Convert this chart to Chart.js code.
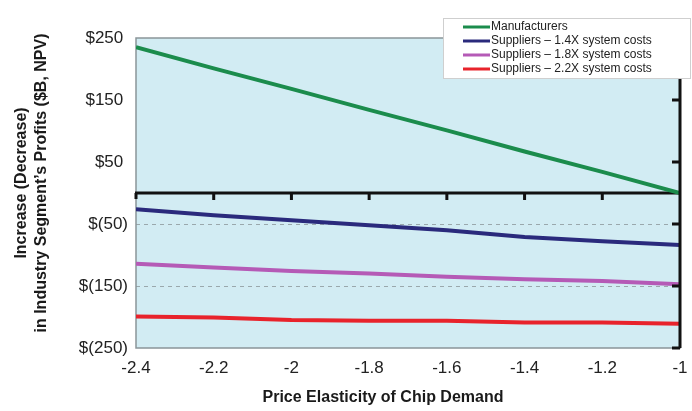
<!DOCTYPE html>
<html>
<head>
<meta charset="utf-8">
<script src="https://cdn.jsdelivr.net/npm/chart.js@4"></script>
<style>
  html, body { margin: 0; padding: 0; background: #fff; }
  #wrap { width: 692px; height: 411px; }
</style>
</head>
<body>
<div id="wrap"><canvas id="profitChart" width="692" height="411"></canvas></div>
<script>
// values ($B, NPV)
const elasticity = [-2.4, -2.2, -2.0, -1.8, -1.6, -1.4, -1.2, -1.0];
const manufacturers = [235, 201, 168, 134, 101, 67, 34, 0];
const suppliers14 = [-26, -36, -44, -52, -60, -71, -78, -84];
const suppliers18 = [-114, -120, -126, -130, -135, -139, -142, -147];
const suppliers22 = [-199, -201, -205, -206, -206, -209, -209, -211];
const yTicks = [250, 150, 50, -50, -150, -250];
const dashedAt = [-50, -150];

const seriesNames = [
  'Manufacturers',
  'Suppliers \u2013 1.4X system costs',
  'Suppliers \u2013 1.8X system costs',
  'Suppliers \u2013 2.2X system costs'
];
const seriesColors = ['#1b8c4c', '#2a2a7c', '#b55ab6', '#e8232b'];
const seriesValues = [manufacturers, suppliers14, suppliers18, suppliers22];

const FONT = 'Arial, "Liberation Sans", sans-serif';

function money(v) {
  if (v < 0) return '$(' + (-v) + ')';
  return '$' + v + ' ';
}

// background, frame, zero line, right axis, legend and titles
const decor = {
  id: 'decor',
  beforeDraw(chart) {
    const a = chart.chartArea;
    const ctx = chart.ctx;
    ctx.save();
    ctx.fillStyle = '#d2ecf3';
    ctx.fillRect(a.left, a.top, a.right - a.left, a.bottom - a.top);
    ctx.restore();
  },
  beforeDatasetsDraw(chart) {
    const a = chart.chartArea;
    const ctx = chart.ctx;
    const x = chart.scales.x, y = chart.scales.y;
    ctx.save();
    // grey frame
    ctx.strokeStyle = '#8a9599';
    ctx.lineWidth = 1.5;
    ctx.strokeRect(a.left, a.top, a.right - a.left, a.bottom - a.top);
    // black zero line with ticks pointing down
    const y0 = y.getPixelForValue(0);
    ctx.strokeStyle = '#111';
    ctx.lineWidth = 3;
    ctx.beginPath();
    ctx.moveTo(a.left - 1, y0);
    ctx.lineTo(a.right, y0);
    ctx.stroke();
    ctx.lineWidth = 3;
    ctx.beginPath();
    ctx.moveTo(a.left, y0);
    ctx.lineTo(a.left, y0 + 6);
    elasticity.slice(1, -1).forEach(function(v) {
      const px = x.getPixelForValue(v);
      ctx.moveTo(px, y0);
      ctx.lineTo(px, y0 + 7);
    });
    ctx.stroke();
    ctx.restore();
  },
  afterDraw(chart) {
    const a = chart.chartArea;
    const ctx = chart.ctx;
    const y = chart.scales.y;
    ctx.save();
    // black right axis with inward ticks
    ctx.strokeStyle = '#111';
    ctx.lineWidth = 3;
    ctx.beginPath();
    ctx.moveTo(a.right, a.top);
    ctx.lineTo(a.right, a.bottom);
    yTicks.forEach(function(v) {
      const py = y.getPixelForValue(v);
      ctx.moveTo(a.right, py);
      ctx.lineTo(a.right - 8, py);
    });
    ctx.stroke();

    // legend box
    ctx.fillStyle = '#fff';
    ctx.fillRect(443, 18, 247, 60);
    ctx.strokeStyle = '#cfcfcf';
    ctx.lineWidth = 1;
    ctx.strokeRect(443.5, 18.5, 247, 60);
    ctx.font = '12px ' + FONT;
    ctx.textBaseline = 'middle';
    ctx.textAlign = 'left';
    chart.data.datasets.forEach(function(ds, i) {
      const ry = 27 + i * 14;
      ctx.strokeStyle = ds.borderColor;
      ctx.lineWidth = 3;
      ctx.beginPath();
      ctx.moveTo(463, ry);
      ctx.lineTo(490, ry);
      ctx.stroke();
      ctx.fillStyle = '#222';
      ctx.fillText(ds.label, 491, ry);
    });

    // axis titles
    ctx.fillStyle = '#1a1a1a';
    ctx.font = 'bold 16px ' + FONT;
    ctx.textAlign = 'center';
    ctx.fillText('Price Elasticity of Chip Demand', 383, 398);
    ctx.translate(0, 183);
    ctx.rotate(-Math.PI / 2);
    ctx.fillText('Increase (Decrease)', 0, 22);
    ctx.fillText('in Industry Segment\u2019s Profits ($B, NPV)', 0, 42);
    ctx.restore();
  }
};

const ctx = document.getElementById('profitChart').getContext('2d');

const data = {
  datasets: seriesValues.map(function(vals, i) {
    return {
      label: seriesNames[i],
      data: vals.map(function(v, j) { return { x: elasticity[j], y: v }; }),
      borderColor: seriesColors[i],
      backgroundColor: seriesColors[i],
      borderWidth: 4,
      pointRadius: 0,
      tension: 0,
      fill: false
    };
  })
};

const config = {
  type: 'line',
  data: data,
  plugins: [decor],
  options: {
    responsive: false,
    animation: false,
    layout: { padding: { top: 38, right: 12, left: 0, bottom: 0 } },
    plugins: {
      legend: { display: false },
      tooltip: { enabled: false }
    },
    scales: {
      x: {
        type: 'linear',
        min: -2.4,
        max: -1,
        afterBuildTicks: function(scale) {
          scale.ticks = elasticity.map(function(v) { return { value: v }; });
        },
        afterFit: function(scale) {
          scale.height = 63;
          scale.paddingRight = 0;
          scale.paddingLeft = 0;
        },
        grid: { display: false, drawTicks: false },
        border: { display: false },
        ticks: {
          padding: 10,
          maxRotation: 0,
          color: '#222',
          font: { family: FONT, size: 17 },
          callback: function(v) { return String(Number(v.toFixed(1))); }
        }
      },
      y: {
        min: -250,
        max: 250,
        afterBuildTicks: function(scale) {
          scale.ticks = yTicks.map(function(v) { return { value: v }; });
        },
        afterFit: function(scale) { scale.width = 136; },
        grid: {
          drawTicks: false,
          lineWidth: 1,
          color: function(c) {
            return dashedAt.indexOf(c.tick && c.tick.value) >= 0 ? '#9aa8ac' : 'rgba(0,0,0,0)';
          }
        },
        border: { display: false, dash: [4, 4] },
        ticks: {
          padding: 8,
          color: '#222',
          font: { family: FONT, size: 17 },
          callback: function(v) { return money(v); }
        }
      }
    }
  }
};

try {
  new Chart(ctx, config);
} catch (error) {
  console.error('Error creating chart:', error);
}
</script>
</body>
</html>
